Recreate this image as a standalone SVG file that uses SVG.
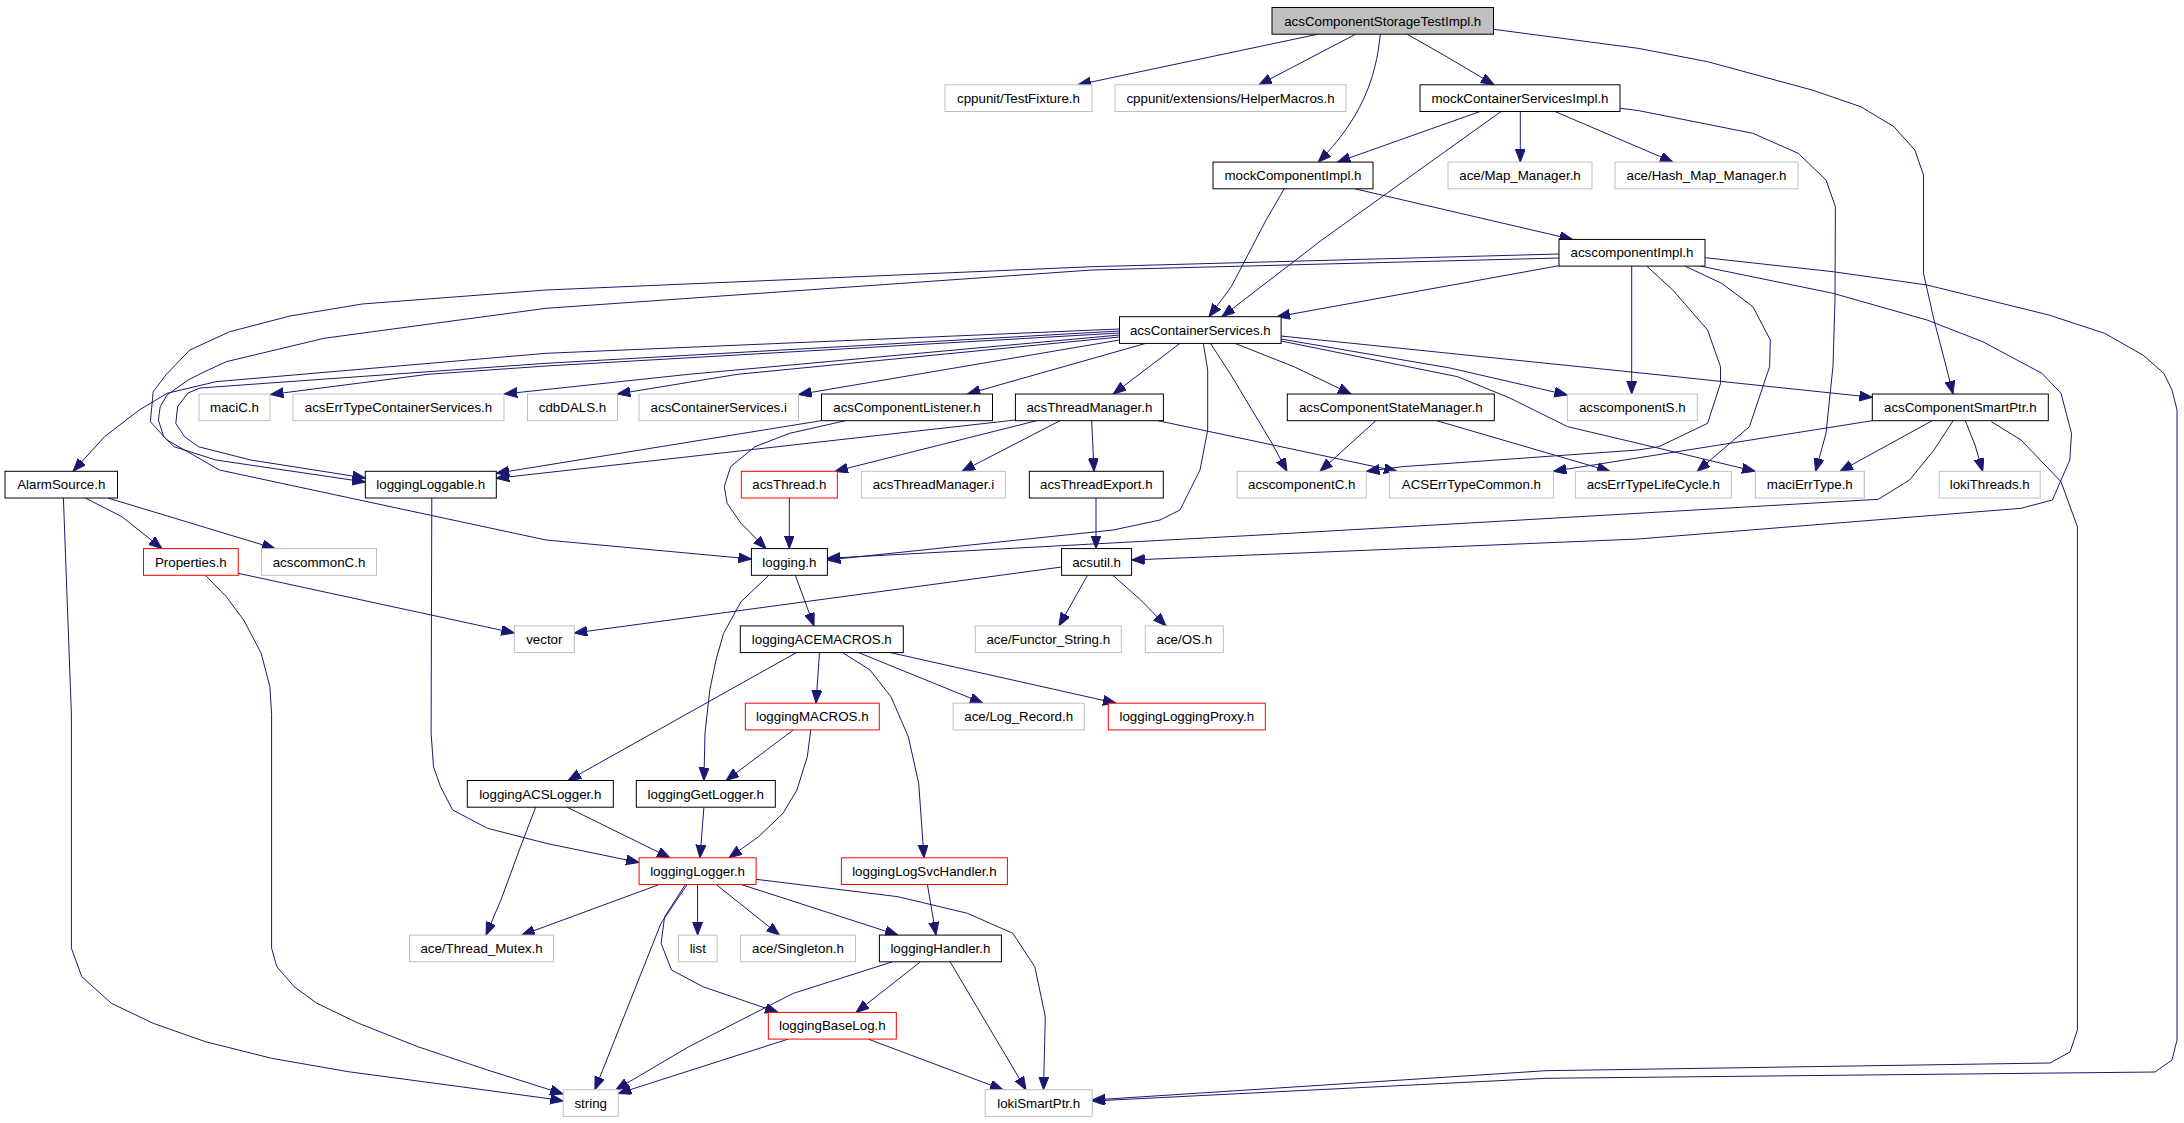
<svg xmlns="http://www.w3.org/2000/svg" width="2184" height="1123" viewBox="0 0 2184 1123">
<style>
rect{fill:#fff;stroke:#000;stroke-width:1}
.g rect{stroke:#bfbfbf}
.r rect{stroke:#ff0000}
.root rect{fill:#bfbfbf}
text{font-family:"Liberation Sans",Arial,Helvetica,sans-serif;font-size:13.33px;text-anchor:middle;fill:#000}
#edges path{fill:none;stroke:#191970;stroke-width:1;stroke-linejoin:round;marker-end:url(#a)}
</style>
<defs>
<marker id="a" markerUnits="userSpaceOnUse" markerWidth="14" markerHeight="11" refX="13" refY="5" orient="auto" viewBox="0 0 14 11">
<path d="M0,0 L13,5 L0,10 z" fill="#191970" stroke="#191970" stroke-width="1"/>
</marker>
</defs>
<rect x="0" y="0" width="2184" height="1123" style="fill:#fff;stroke:none"/>
<g id="edges">
<path d="M1318,34.2 L1078,84.8"/>
<path d="M1355.6,34.2 L1259,84.8"/>
<path d="M1380.3,34.2 C1376,80 1360,120 1318.3,162.1"/>
<path d="M1407,34.2 L1443.7,55 L1494,84.8"/>
<path d="M1493.5,29.3 L1638,48.3 L1707.6,61.7 L1812,90 L1860.8,106.7 L1893.9,126.7 L1914.8,150 L1923.5,175 L1923.5,273.3 L1934,320 L1946.2,366.7 L1953,394"/>
<path d="M1480,111.5 L1337.5,162.1"/>
<path d="M1501,111.5 L1405.4,180 L1321.8,240 L1222,316.7"/>
<path d="M1520.3,111.5 L1520.3,162.1"/>
<path d="M1555,111.5 L1673,162.1"/>
<path d="M1620.2,108.3 L1638,110.5 L1752.9,133.3 L1798.2,153.3 L1826,180 L1835.4,206.7 L1835,300 L1833,366 L1826,433.3 L1815.6,471.3"/>
<path d="M1284.2,188.8 L1266.1,220 L1245.2,260 L1231.3,286.7 L1209,316.7"/>
<path d="M1354.9,188.8 L1572.5,239.4"/>
<path d="M1559,265.7 L1277,316.7"/>
<path d="M1559,254 L1092,266.7 L546,290 L362,304 L290,316 L229.8,331.7 L189.8,350 L166.4,374.3 L153.2,391.7 L150.4,421.7 L167.1,440 L219.4,470 L546,540 L751.4,559"/>
<path d="M1559,258 L1092,270 L546,308.3 L324,338.3 L226.3,361.7 L204,372 L188,380 L167.1,395 L160.2,406.7 L158.4,420 L163.7,436.7 L174.1,446.7 L215.9,460 L365.3,482"/>
<path d="M1119.5,331 L546,363.3 L200,388 L188,393 L177.6,406.7 L175.8,423.3 L184.5,436.7 L198.5,446.7 L250.7,460 L365.3,478"/>
<path d="M1119.5,329 L546,353.3 L215.9,381.7 L167.1,393.3 L139.3,410 L104.5,436.7 L73.1,471.3"/>
<path d="M1119.5,333 L546,366 L428,374.3 L270.5,394.5"/>
<path d="M1119.5,335 L688.8,374.3 L504.2,394"/>
<path d="M1119.5,337 L737.5,374.3 L617.4,394"/>
<path d="M1119.5,340 L798.5,394.5"/>
<path d="M1146,343.3 L967.3,394"/>
<path d="M1180,343.3 L1113.3,394"/>
<path d="M1203.3,343.3 L1207.7,370 L1207.7,430 L1200,470 L1180,510 L1160,520 L1113.3,530 L827.4,560"/>
<path d="M1210.4,343.3 L1231,375 L1259,421.7 L1273,445 L1287,471.3"/>
<path d="M1234.8,343.3 L1294,366.7 L1351,394"/>
<path d="M1281,336 L1638,372.7 L1872.3,397.3"/>
<path d="M1281,339 L1450,368 L1567.3,395"/>
<path d="M1281,341 L1457.6,376.7 L1509.8,398 L1567.7,426.7 L1638,443.3 L1755,471.3"/>
<path d="M1631.7,266.1 L1631.7,394"/>
<path d="M1646.7,266.1 L1672.8,290 L1707.6,330 L1720.5,366.7 L1720.5,383.3 L1707.6,423.3 L1658.9,446.7 L1638,450 L1401.9,466.7 L1366.4,471.3"/>
<path d="M1685,266.1 L1721.6,283.3 L1752.9,306.7 L1770.3,340 L1769.6,366.7 L1749.4,426.7 L1697.2,471.3"/>
<path d="M1700,266 L1833,293.3 L1927,320 L1982.7,341.7 L2041.9,373.3 L2061,393.3 L2071.5,433.3 L2069.8,460 L2052.4,500 L2021,508.3 L1638,539 L1131.7,560"/>
<path d="M1705.2,257.7 L1833,271.7 L1927,285 L2048.9,315 L2104.6,333.3 L2142.9,355 L2163.8,373.3 L2172,390 L2177,410 L2177,1040 L2172,1060 L2155,1072 L1546,1078.3 L1092.3,1101"/>
<path d="M1991.4,421.7 L2021,440 L2061,481.7 L2077.4,526.7 L2077.4,1030 L2070,1052 L2050,1063 L1546,1070.7 L1092.3,1100"/>
<path d="M1872.3,420.7 L1553.4,471.3"/>
<path d="M1932.2,420.7 L1840,471.3"/>
<path d="M1965.3,420.7 L1975,445 L1982.7,471.3"/>
<path d="M1953.1,420.7 L1934,450 L1909.6,480 L1878.3,499.3 L1638,513.3 L1260,535 L827.4,558.3"/>
<path d="M821.1,420.7 L496.2,473.3"/>
<path d="M845.5,420.7 L789.7,433.3 L754.9,446.7 L730.6,466.7 L724.3,486.7 L727.1,503.3 L741,523.3 L766,548.6"/>
<path d="M1015.4,420 L496.2,478.3"/>
<path d="M1036.7,420.7 L835,471.3"/>
<path d="M1060,420.7 L962,471.3"/>
<path d="M1091.7,420.7 L1094,471.3"/>
<path d="M1158,420.7 L1397,471.3"/>
<path d="M789.3,497.9 L789.3,548.6"/>
<path d="M1096,497.9 L1096,548.6"/>
<path d="M1375.8,420.7 L1320,471.3"/>
<path d="M1436.7,420.7 L1610,471.3"/>
<path d="M1061.6,567 L574.2,633"/>
<path d="M1087.5,575.3 L1059,625.9"/>
<path d="M1112.9,575.3 L1140.7,600 L1166,625.9"/>
<path d="M85.3,498 L121.9,516.7 L162,548.6"/>
<path d="M107.9,498 L275,548.6"/>
<path d="M63.4,498 L71.4,714.3 L71.4,948.3 L81.8,976.7 L111.4,1003.3 L153.2,1023.3 L205.4,1041.7 L271.6,1058.3 L348.2,1071.7 L435.3,1083.3 L546,1098.3 L563.2,1101"/>
<path d="M238.2,573.3 L514.3,633"/>
<path d="M205.4,575.3 L226.3,596.7 L243.7,620 L261.2,653.3 L269.9,686.7 L271.6,714.3 L271.6,948.3 L276.8,966.7 L294.2,986.7 L316.9,1003.3 L358.6,1023.3 L417.8,1046.7 L487.5,1070 L563.2,1094"/>
<path d="M431.8,498 L431.1,733.3 L433.5,766.7 L440.5,786.7 L452.7,810 L487.5,828.3 L546,843.3 L639.1,862.5"/>
<path d="M795.3,575.3 L814,625.9"/>
<path d="M768.9,575.3 L741,601.7 L723.6,633.3 L716,660 L709.8,690 L705,733 L703.9,780.5"/>
<path d="M796.9,652.3 L568,780.5"/>
<path d="M819.5,652.3 L816,703.2"/>
<path d="M842.1,652.3 L870,670 L890.9,696.7 L908.3,736.7 L918.7,783.3 L924,857.8"/>
<path d="M857.8,652.3 L983,703.2"/>
<path d="M889.1,652.3 L1116,703.2"/>
<path d="M793.4,729.9 L726,780.5"/>
<path d="M810.8,729.9 L807.3,756.7 L796.9,790 L783,813.3 L758.6,836.7 L729,857.8"/>
<path d="M535.7,807.2 L521.8,843.3 L500.9,900 L486,935.1"/>
<path d="M567,807.2 L670,857.8"/>
<path d="M703.9,807.2 L700,857.8"/>
<path d="M659.3,884.5 L521.8,935.1"/>
<path d="M697.6,884.5 L697.6,935.1"/>
<path d="M716.1,884.5 L779.5,935.1"/>
<path d="M741.2,884.5 L898,935.1"/>
<path d="M687.2,884.5 L661,923.3 L594.9,1089.7"/>
<path d="M685.4,884.5 L664.6,916.7 L661.1,943.3 L671.5,970 L702.9,986.7 L778,1012.4"/>
<path d="M756.1,879.3 L897.9,896.7 L967.5,913.3 L1012.8,933.3 L1034.8,966.7 L1045.3,1016.7 L1043.5,1089.7"/>
<path d="M927.4,884.5 L936,935.1"/>
<path d="M892.6,961.8 L793.4,993.3 L688.9,1046.7 L615.8,1089.7"/>
<path d="M920.5,961.8 L856,1012.4"/>
<path d="M950.1,961.8 L1026,1089.7"/>
<path d="M788.2,1039.1 L618.2,1093.5"/>
<path d="M868.2,1039.1 L1003,1089.7"/>
</g>
<g id="n_root" class="root"><rect x="1272" y="7.5" width="221.5" height="26.7"/><text x="1382.75" y="25.5">acsComponentStorageTestImpl.h</text></g>
<g id="n_testfixture" class="g"><rect x="945" y="84.8" width="147" height="26.7"/><text x="1018.5" y="102.8">cppunit/TestFixture.h</text></g>
<g id="n_helpermacros" class="g"><rect x="1115" y="84.8" width="231" height="26.7"/><text x="1230.5" y="102.8">cppunit/extensions/HelperMacros.h</text></g>
<g id="n_mockcsi"><rect x="1420" y="84.8" width="200" height="26.7"/><text x="1520" y="102.8">mockContainerServicesImpl.h</text></g>
<g id="n_mockcomp"><rect x="1213" y="162.1" width="160" height="26.7"/><text x="1293" y="180.1">mockComponentImpl.h</text></g>
<g id="n_mapmgr" class="g"><rect x="1448" y="162.1" width="144" height="26.7"/><text x="1520" y="180.1">ace/Map_Manager.h</text></g>
<g id="n_hashmapmgr" class="g"><rect x="1615" y="162.1" width="183" height="26.7"/><text x="1706.5" y="180.1">ace/Hash_Map_Manager.h</text></g>
<g id="n_acscomponentimpl"><rect x="1559" y="239.4" width="146" height="26.7"/><text x="1632" y="257.4">acscomponentImpl.h</text></g>
<g id="n_acscs"><rect x="1119.5" y="316.7" width="161.6" height="26.7"/><text x="1200.3" y="334.7">acsContainerServices.h</text></g>
<g id="n_macic" class="g"><rect x="199" y="394" width="71" height="26.7"/><text x="234.5" y="412">maciC.h</text></g>
<g id="n_acserrtcs" class="g"><rect x="293" y="394" width="211" height="26.7"/><text x="398.5" y="412">acsErrTypeContainerServices.h</text></g>
<g id="n_cdbdals" class="g"><rect x="527.5" y="394" width="90" height="26.7"/><text x="572.5" y="412">cdbDALS.h</text></g>
<g id="n_acscsi" class="g"><rect x="639" y="394" width="159.5" height="26.7"/><text x="718.75" y="412">acsContainerServices.i</text></g>
<g id="n_acscomplistener"><rect x="821.5" y="394" width="171" height="26.7"/><text x="907" y="412">acsComponentListener.h</text></g>
<g id="n_acsthreadmgr"><rect x="1015.4" y="394" width="148" height="26.7"/><text x="1089.4" y="412">acsThreadManager.h</text></g>
<g id="n_acscompstatemgr"><rect x="1287.3" y="394" width="207" height="26.7"/><text x="1390.8" y="412">acsComponentStateManager.h</text></g>
<g id="n_acscomponents" class="g"><rect x="1567.3" y="394" width="130" height="26.7"/><text x="1632.3" y="412">acscomponentS.h</text></g>
<g id="n_acscompsmartptr"><rect x="1872.3" y="394" width="176" height="26.7"/><text x="1960.3" y="412">acsComponentSmartPtr.h</text></g>
<g id="n_alarmsource"><rect x="5" y="471.3" width="112.5" height="26.7"/><text x="61.25" y="489.3">AlarmSource.h</text></g>
<g id="n_loggingloggable"><rect x="365.3" y="471.3" width="131" height="26.7"/><text x="430.8" y="489.3">loggingLoggable.h</text></g>
<g id="n_acsthread" class="r"><rect x="741.3" y="471.3" width="96" height="26.7"/><text x="789.3" y="489.3">acsThread.h</text></g>
<g id="n_acsthreadmgri" class="g"><rect x="861.4" y="471.3" width="144" height="26.7"/><text x="933.4" y="489.3">acsThreadManager.i</text></g>
<g id="n_acsthreadexport"><rect x="1029.3" y="471.3" width="134" height="26.7"/><text x="1096.3" y="489.3">acsThreadExport.h</text></g>
<g id="n_acscomponentc" class="g"><rect x="1237.2" y="471.3" width="129" height="26.7"/><text x="1301.7" y="489.3">acscomponentC.h</text></g>
<g id="n_acserrtypecommon" class="g"><rect x="1389.4" y="471.3" width="164" height="26.7"/><text x="1471.4" y="489.3">ACSErrTypeCommon.h</text></g>
<g id="n_acserrtypelifecycle" class="g"><rect x="1575.3" y="471.3" width="156" height="26.7"/><text x="1653.3" y="489.3">acsErrTypeLifeCycle.h</text></g>
<g id="n_macierrtype" class="g"><rect x="1755.3" y="471.3" width="109" height="26.7"/><text x="1809.8" y="489.3">maciErrType.h</text></g>
<g id="n_lokithreads" class="g"><rect x="1939.2" y="471.3" width="101" height="26.7"/><text x="1989.7" y="489.3">lokiThreads.h</text></g>
<g id="n_properties" class="r"><rect x="143.5" y="548.6" width="94.7" height="26.7"/><text x="190.85" y="566.6">Properties.h</text></g>
<g id="n_acscommonc" class="g"><rect x="261.5" y="548.6" width="115" height="26.7"/><text x="319" y="566.6">acscommonC.h</text></g>
<g id="n_logging"><rect x="751.4" y="548.6" width="76" height="26.7"/><text x="789.4" y="566.6">logging.h</text></g>
<g id="n_acsutil"><rect x="1061.6" y="548.6" width="70" height="26.7"/><text x="1096.6" y="566.6">acsutil.h</text></g>
<g id="n_vector" class="g"><rect x="514.3" y="625.9" width="60" height="26.7"/><text x="544.3" y="643.9">vector</text></g>
<g id="n_loggingacemacros"><rect x="740.3" y="625.9" width="163" height="26.7"/><text x="821.8" y="643.9">loggingACEMACROS.h</text></g>
<g id="n_functorstring" class="g"><rect x="975.3" y="625.9" width="146" height="26.7"/><text x="1048.3" y="643.9">ace/Functor_String.h</text></g>
<g id="n_aceos" class="g"><rect x="1145.3" y="625.9" width="78" height="26.7"/><text x="1184.3" y="643.9">ace/OS.h</text></g>
<g id="n_loggingmacros" class="r"><rect x="745.3" y="703.2" width="134" height="26.7"/><text x="812.3" y="721.2">loggingMACROS.h</text></g>
<g id="n_logrecord" class="g"><rect x="953.2" y="703.2" width="131" height="26.7"/><text x="1018.7" y="721.2">ace/Log_Record.h</text></g>
<g id="n_loggingproxy" class="r"><rect x="1108.3" y="703.2" width="157" height="26.7"/><text x="1186.8" y="721.2">loggingLoggingProxy.h</text></g>
<g id="n_loggingacslogger"><rect x="467.3" y="780.5" width="146" height="26.7"/><text x="540.3" y="798.5">loggingACSLogger.h</text></g>
<g id="n_logginggetlogger"><rect x="636.3" y="780.5" width="139" height="26.7"/><text x="705.8" y="798.5">loggingGetLogger.h</text></g>
<g id="n_logginglogger" class="r"><rect x="639.1" y="857.8" width="117" height="26.7"/><text x="697.6" y="875.8">loggingLogger.h</text></g>
<g id="n_logsvchandler" class="r"><rect x="841.4" y="857.8" width="166" height="26.7"/><text x="924.4" y="875.8">loggingLogSvcHandler.h</text></g>
<g id="n_threadmutex" class="g"><rect x="409.5" y="935.1" width="144" height="26.7"/><text x="481.5" y="953.1">ace/Thread_Mutex.h</text></g>
<g id="n_list" class="g"><rect x="678.5" y="935.1" width="38.6" height="26.7"/><text x="697.8" y="953.1">list</text></g>
<g id="n_singleton" class="g"><rect x="740.5" y="935.1" width="115" height="26.7"/><text x="798" y="953.1">ace/Singleton.h</text></g>
<g id="n_logginghandler"><rect x="879.4" y="935.1" width="122" height="26.7"/><text x="940.4" y="953.1">loggingHandler.h</text></g>
<g id="n_loggingbaselog" class="r"><rect x="768.3" y="1012.4" width="128" height="26.7"/><text x="832.3" y="1030.4">loggingBaseLog.h</text></g>
<g id="n_string" class="g"><rect x="563.2" y="1089.7" width="55" height="26.7"/><text x="590.7" y="1107.7">string</text></g>
<g id="n_lokismartptr" class="g"><rect x="985.2" y="1089.7" width="107" height="26.7"/><text x="1038.7" y="1107.7">lokiSmartPtr.h</text></g>
</svg>
